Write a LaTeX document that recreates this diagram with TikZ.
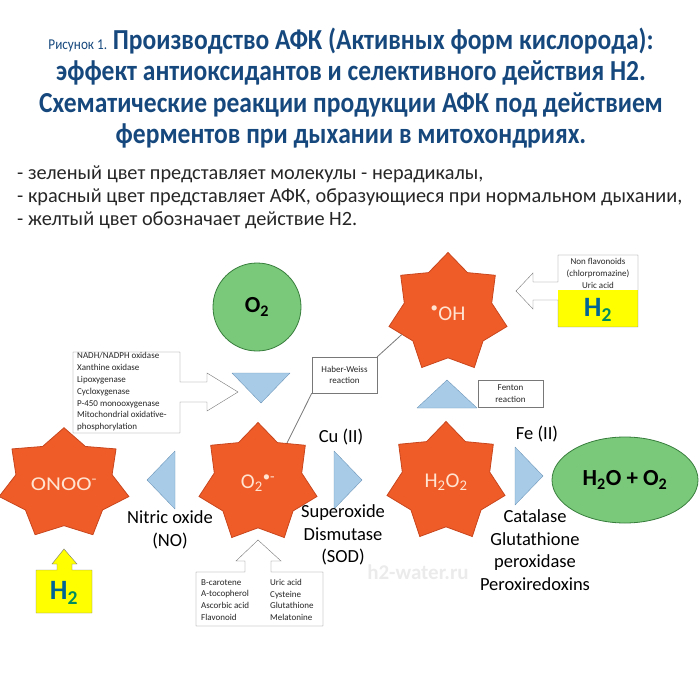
\documentclass[tikz,border=0pt]{standalone}
\usepackage{fontspec}
\setmainfont{Carlito}
\newfontfamily\cabfont{Carlito}[FakeStretch=0.88]
\usepackage{xcolor}
\definecolor{titulo}{RGB}{22,72,125}
\definecolor{rosF}{RGB}{240,92,40}
\definecolor{rosB}{RGB}{200,70,30}
\definecolor{rosT}{RGB}{255,228,210}
\definecolor{molF}{RGB}{122,200,122}
\definecolor{molB}{RGB}{55,125,60}
\definecolor{triF}{RGB}{168,204,232}
\definecolor{triB}{RGB}{110,150,185}
\definecolor{amarelo}{RGB}{255,255,0}
\definecolor{hdois}{RGB}{0,100,150}
\definecolor{hdoisv}{RGB}{0,140,95}
\definecolor{cinza}{RGB}{120,120,120}
\usepackage{tikz}
\usetikzlibrary{shapes.geometric,positioning,calc}
\newcommand\hh{{\color{hdois}H}\textsubscript{\color{hdoisv}2}}

\begin{document}
\begin{tikzpicture}[x=1pt,y=-1pt,
    ros/.style={star,star points=7,star point ratio=1.35,minimum size=121pt,
      inner sep=0pt,draw=rosB,fill=rosF,thick,text=rosT,
    font=\fontsize{21}{21}\selectfont},
    mol/.style={draw=molB,fill=molF,thick,font=\fontsize{23}{23}\selectfont\bfseries},
    tri/.style={draw=triB,fill=triF,line join=round},
    caixa/.style={draw=cinza,fill=white,line join=miter},
    rotulo/.style={font=\fontsize{9}{11.8}\selectfont,text=black!85,inner sep=0pt},
    legenda/.style={font=\fontsize{18.5}{22.7}\selectfont,align=center,inner sep=0pt}
    ]
    \useasboundingbox (0,0) rectangle (700,700);

    % marca d'agua
    \node[text=black!8,font=\fontsize{21}{21}\selectfont\bfseries] (wm) at (418,572) {h2-water.ru};

    % titulo
    \node[text=titulo,align=center,inner sep=0pt,
    font=\cabfont\fontsize{29}{31.5}\selectfont\bfseries] (tit) at (351,88)
    {{\mdseries\fontsize{15}{15}\selectfont Рисунок 1.}\ Производство АФК (Активных форм кислорода):\\
      эффект антиоксидантов и селективного действия H2.\\
      Схематические реакции продукции АФК под действием\\
      ферментов при дыхании в митохондриях.};

    % legenda
    \node[anchor=north west,align=left,inner sep=0pt,text=black!85,
    font=\fontsize{20.3}{22.7}\selectfont] (leg) at (17,166)
    {- зеленый цвет представляет молекулы - нерадикалы,\\
      - красный цвет представляет АФК, образующиеся при нормальном дыхании,\\
      - желтый цвет обозначает действие H2.};

    % moleculas
    \node[ros] (oh)   at (448,313) {\textsuperscript{•}OH};
    \node[ros] (sup)  at (258,483) {O\textsubscript{2}\textsuperscript{•-}};
    \node[ros] (per)  at (446,482) {H\textsubscript{2}O\textsubscript{2}};
    \node[ros,xscale=1.1,yscale=0.93] (onoo) at (64,484) {ONOO\textsuperscript{-}};
    \node[mol,circle,minimum size=88pt] (o2) at (257,307) {O\textsubscript{2}};
    \node[mol,ellipse,minimum width=146pt,minimum height=86pt] (agua) at (625,480)
    {H\textsubscript{2}O + O\textsubscript{2}};

    % triangulos
    \draw[tri] (232,373) -- (290,373) -- (261,403) -- cycle;
    \draw[tri] (147,480) -- (175,451) -- (175,509) -- cycle;
    \draw[tri] (334,451) -- (362,480) -- (334,509) -- cycle;
    \draw[tri] (515,447) -- (543,476) -- (515,505) -- cycle;
    \draw[tri] (417,408) -- (447,380) -- (477,408) -- cycle;

    % rotulos das reacoes
    \node[legenda] (cu)  at (341,437) {Cu (II)};
    \node[legenda] (sod) at (343,535) {Superoxide\\Dismutase\\(SOD)};
    \node[legenda] (no)  at (170,530) {Nitric oxide\\(NO)};
    \node[legenda] (fe)  at (537,434) {Fe (II)};
    \node[legenda] (cat) at (535,550) {Catalase\\Glutathione\\peroxidase\\Peroxiredoxins};

    % enzimas
    \draw[caixa] (73,352) -- (180,352) -- (180,382) -- (207,382) -- (207,373) -- (238,392)
    -- (207,411) -- (207,402) -- (180,402) -- (180,433) -- (73,433) -- cycle;
    \node[rotulo,anchor=north west,align=left] (enz) at (77,352.5)
    {NADH/NADPH oxidase\\Xanthine oxidase\\Lipoxygenase\\Cycloxygenase\\
      P-450 monooxygenase\\Mitochondrial oxidative-\\phosphorylation};

    % Haber-Weiss
    \node[caixa,rotulo,minimum width=65pt,minimum height=36pt,align=center] (hw) at (344.5,375)
    {Haber-Weiss\\reaction};
    \draw[cinza,thick] (sup.54) -- (hw.south west);
    \draw[cinza,thick] (hw.north east) -- (oh.205);

    % Fenton
    \node[caixa,rotulo,minimum width=65pt,minimum height=27pt,align=center] (fen) at (510.5,393.5)
    {Fenton\\reaction};

    % antioxidantes
    \draw[caixa] (196,572) -- (245,572) -- (245,561) -- (236,561) -- (258,540) -- (281,561)
    -- (271,561) -- (271,572) -- (323,572) -- (323,626) -- (196,626) -- cycle;
    \node[rotulo,anchor=west,align=left] (ant1) at (201,600)
    {B-carotene\\A-tocopherol\\Ascorbic acid\\Flavonoid};
    \node[rotulo,anchor=west,align=left] (ant2) at (270,600)
    {Uric acid\\Cysteine\\Glutathione\\Melatonine};

    % nao flavonoides + H2
    \fill[amarelo] (558,290) rectangle (638,327);
    \draw[caixa,fill=none] (558,255) -- (638,255) -- (638,327) -- (558,327) -- (558,300)
    -- (533,300) -- (533,309) -- (516,291) -- (533,273) -- (533,282) -- (558,282) -- cycle;
    \node[rotulo,align=center] (nf) at (598,273.5)
    {Non flavonoids\\(chlorpromazine)\\Uric acid};
    \node[font=\fontsize{28}{28}\selectfont\bfseries] (h2a) at (598,310) {\hh};

    % H2 sob ONOO
    \draw[caixa,fill=amarelo] (36,570) -- (57,570) -- (57,564) -- (52,564) -- (64,549)
    -- (77,564) -- (72,564) -- (72,570) -- (92,570) -- (92,613) -- (36,613) -- cycle;
    \node[font=\fontsize{28}{28}\selectfont\bfseries] (h2b) at (64,593) {\hh};
  \end{tikzpicture}
\end{document}
